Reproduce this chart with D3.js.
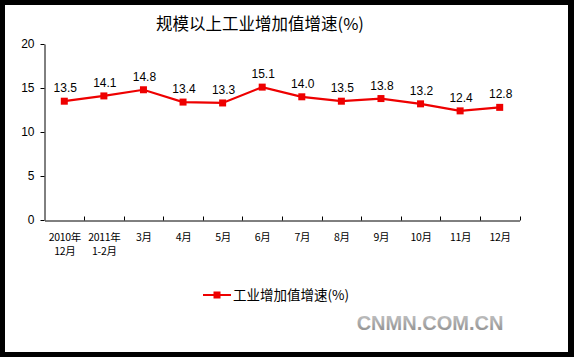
<!DOCTYPE html>
<html><head><meta charset="utf-8">
<script src="https://cdn.jsdelivr.net/npm/d3@7"></script>
<style>html,body{margin:0;padding:0;background:#000;}</style>
</head><body>
<script>
const categories = [["2010年","12月"],["2011年","1-2月"],["3月"],["4月"],["5月"],["6月"],["7月"],["8月"],["9月"],["10月"],["11月"],["12月"]];
const values = [13.5,14.1,14.8,13.4,13.3,15.1,14.0,13.5,13.8,13.2,12.4,12.8];
const yTicks = [0,5,10,15,20];
const title = "规模以上工业增加值增速(%)";
const seriesName = "工业增加值增速(%)";
const watermark = "CNMN.COM.CN";

const W = 574, H = 357;
const svg = d3.select("body").append("svg").attr("width", W).attr("height", H).style("display","block");
svg.append("rect").attr("width", W).attr("height", H).attr("fill", "#000");
svg.append("rect").attr("x", 5).attr("y", 5).attr("width", 563).attr("height", 347).attr("fill", "#fff");

const x = d3.scaleBand().domain(d3.range(categories.length)).range([44.5, 519.5]);
const y = d3.scaleLinear().domain([0, 20]).range([220, 44]);

// title
svg.append("text").attr("x", 260).attr("y", 30).attr("text-anchor", "middle")
  .attr("font-family", "'Noto Sans CJK SC', sans-serif").attr("font-size", 16.5).attr("fill", "#000").text(title);

// y axis
const ya = svg.append("g").attr("transform", "translate(44.5,0)")
  .call(d3.axisLeft(y).tickValues(yTicks).tickSize(4).tickSizeOuter(0).tickPadding(6));
ya.select(".domain").attr("stroke", "#000");
ya.selectAll("text").attr("font-family", "Arial, 'Liberation Sans', sans-serif").attr("font-size", 12).attr("fill", "#000");

// x axis
const xa = svg.append("g").attr("transform", "translate(0,220.5)")
  .call(d3.axisBottom(x).tickSize(0).tickFormat(""));
xa.select(".domain").attr("stroke", "#000");
const tickPos = d3.range(categories.length + 1).map(i => i < categories.length ? x(i) : x(categories.length - 1) + x.bandwidth());
svg.append("g").selectAll("line").data(tickPos.slice(1)).join("line")
  .attr("x1", d => Math.round(d) + 0.5).attr("x2", d => Math.round(d) + 0.5)
  .attr("y1", 220.5).attr("y2", 216.5).attr("stroke", "#000");

const xl = svg.append("g");
categories.forEach((c, i) => {
  const t = xl.append("text").attr("x", x(i) + x.bandwidth() / 2 + 0.5).attr("y", 241)
    .attr("text-anchor", "middle").attr("font-family", "'Noto Sans CJK SC', sans-serif")
    .attr("font-size", 10.5).attr("letter-spacing", -0.3).attr("fill", "#000");
  c.forEach((line, k) => t.append("tspan").attr("x", x(i) + x.bandwidth() / 2 + 0.5).attr("dy", k === 0 ? 0 : 14).text(line));
});

// line
const cx = i => x(i) + x.bandwidth() / 2;
const red = "#ee0000";
svg.append("path").datum(values)
  .attr("d", d3.line().x((d, i) => cx(i)).y(d => y(d)))
  .attr("fill", "none").attr("stroke", red).attr("stroke-width", 2.2);
svg.append("g").selectAll("rect").data(values).join("rect")
  .attr("x", (d, i) => cx(i) - 3.5).attr("y", d => y(d) - 3.5)
  .attr("width", 7).attr("height", 7).attr("fill", red);
svg.append("g").selectAll("text").data(values).join("text")
  .attr("x", (d, i) => cx(i) + 1).attr("y", d => y(d) - 9)
  .attr("text-anchor", "middle").attr("font-family", "Arial, 'Liberation Sans', sans-serif")
  .attr("font-size", 12).attr("fill", "#000").text(d => d.toFixed(1));

// legend
const lg = svg.append("g").attr("transform", "translate(203,295)");
lg.append("line").attr("x1", 0).attr("x2", 28).attr("y1", 0).attr("y2", 0).attr("stroke", red).attr("stroke-width", 2);
lg.append("rect").attr("x", 10.5).attr("y", -3.5).attr("width", 7).attr("height", 7).attr("fill", red);
lg.append("text").attr("x", 30).attr("y", 5).attr("font-family", "'Noto Sans CJK SC', sans-serif")
  .attr("font-size", 13.5).attr("fill", "#000").text(seriesName);

// watermark
const defs = svg.append("defs");
const gr = defs.append("linearGradient").attr("id", "wm").attr("x1", 0).attr("y1", 0).attr("x2", 0).attr("y2", 1);
gr.append("stop").attr("offset", "0%").attr("stop-color", "#c8c8c8");
gr.append("stop").attr("offset", "100%").attr("stop-color", "#8a8a8a");
svg.append("text").attr("x", 430).attr("y", 330).attr("text-anchor", "middle")
  .attr("font-family", "Arial, 'Liberation Sans', sans-serif").attr("font-weight", "bold")
  .attr("font-size", 20).attr("fill", "url(#wm)").text(watermark);
</script>
</body></html>
